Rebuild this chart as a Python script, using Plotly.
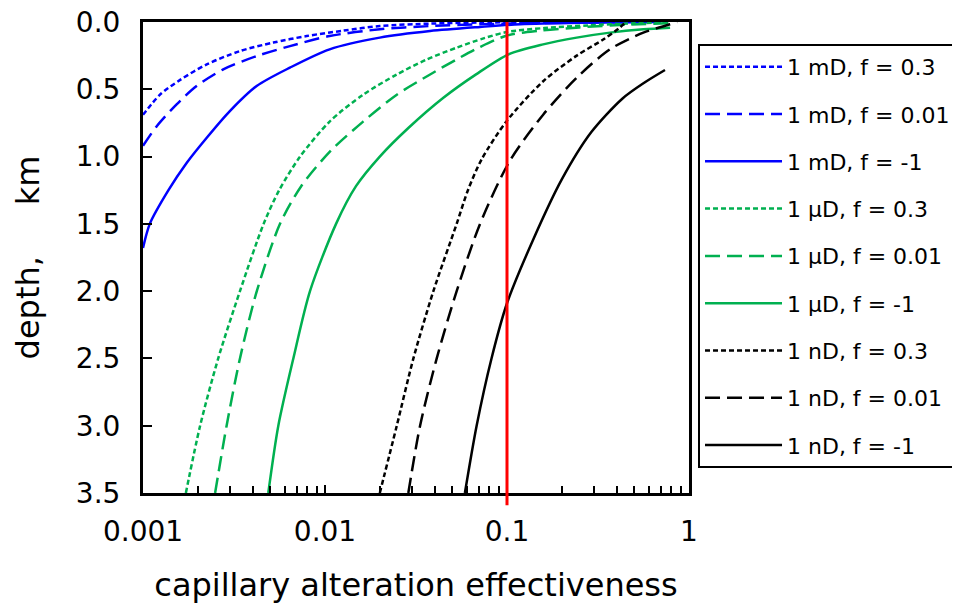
import plotly.graph_objects as go

# ---- data ----
names = ["1 mD, f = 0.3", "1 mD, f = 0.01", "1 mD, f = -1",
         "1 μD, f = 0.3", "1 μD, f = 0.01", "1 μD, f = -1",
         "1 nD, f = 0.3", "1 nD, f = 0.01", "1 nD, f = -1"]

md_f03_depth = [0.69, 0.54, 0.43, 0.315, 0.216, 0.153, 0.104, 0.065, 0.03, 0.012, 0.004, 0.0]
md_f03_x     = [0.001, 0.00124, 0.0016, 0.00224, 0.00341, 0.0052, 0.00794, 0.0125, 0.02, 0.038, 0.07, 0.5]

md_f001_depth = [0.92, 0.774, 0.612, 0.476, 0.352, 0.253, 0.179, 0.104, 0.054, 0.03, 0.017, 0.01, 0.0]
md_f001_x     = [0.001, 0.00119, 0.00153, 0.00197, 0.00276, 0.00421, 0.00642, 0.0106, 0.02, 0.0378, 0.071, 0.118, 0.6]

md_fm1_depth = [1.68, 1.5, 1.25, 1.046, 0.86, 0.662, 0.476, 0.339, 0.203, 0.116, 0.067, 0.037, 0.017, 0.006, 0.0]
md_fm1_x     = [0.001, 0.00109, 0.00138, 0.00174, 0.00224, 0.003, 0.00421, 0.00642, 0.0106, 0.02, 0.0378, 0.0711, 0.118, 0.25, 0.7]

ud_f03_depth = [3.5, 3.0, 2.5, 2.0, 1.5, 1.25, 1.0, 0.74, 0.54, 0.39, 0.28, 0.19, 0.12, 0.074, 0.045, 0.025, 0.01, 0.003]
ud_f03_x     = [0.00172, 0.00206, 0.00259, 0.00341, 0.0046, 0.0056, 0.0073, 0.0106, 0.0162, 0.0248, 0.036, 0.053, 0.075, 0.1, 0.16, 0.28, 0.5, 0.79]

ud_f001_depth = [3.5, 3.0, 2.5, 2.0, 1.5, 1.22, 0.96, 0.74, 0.54, 0.39, 0.28, 0.19, 0.1, 0.065, 0.04, 0.02, 0.008]
ud_f001_x     = [0.00249, 0.00288, 0.00341, 0.00422, 0.00566, 0.0074, 0.0107, 0.0162, 0.0248, 0.0378, 0.0525, 0.07, 0.1, 0.15, 0.25, 0.45, 0.79]

ud_fm1_depth = [3.5, 3.0, 2.5, 2.0, 1.5, 1.22, 1.0, 0.786, 0.563, 0.389, 0.24, 0.166, 0.116, 0.079, 0.054, 0.042]
ud_fm1_x     = [0.00488, 0.00554, 0.0067, 0.00827, 0.0115, 0.0148, 0.02, 0.0288, 0.0447, 0.0676, 0.102, 0.158, 0.2415, 0.368, 0.561, 0.787]

nd_f03_depth = [3.5, 3.0, 2.5, 2.0, 1.5, 1.25, 1.02, 0.737, 0.44, 0.25, 0.13, 0.05, 0.0]
nd_f03_x     = [0.02, 0.0248, 0.0306, 0.0394, 0.0529, 0.061, 0.0726, 0.0995, 0.158, 0.2415, 0.338, 0.41, 0.45]

nd_f001_depth = [3.5, 3.0, 2.5, 2.0, 1.5, 1.03, 0.687, 0.414, 0.203, 0.079, 0.017, 0.0]
nd_f001_x     = [0.0287, 0.0333, 0.0411, 0.0529, 0.0711, 0.1038, 0.1584, 0.2415, 0.368, 0.561, 0.787, 0.86]

nd_fm1_depth = [3.5, 3.0, 2.5, 2.09, 1.62, 1.17, 0.82, 0.57, 0.45, 0.357]
nd_fm1_x     = [0.0587, 0.0681, 0.0822, 0.1, 0.139, 0.2, 0.29, 0.43, 0.57, 0.738]

threshold = 0.1

x_tickvals = [0.001, 0.01, 0.1, 1]
x_ticktext = ["0.001", "0.01", "0.1", "1"]
y_tickvals = [0.0, 0.5, 1.0, 1.5, 2.0, 2.5, 3.0, 3.5]
y_ticktext = ["0.0", "0.5", "1.0", "1.5", "2.0", "2.5", "3.0", "3.5"]

series_x = [md_f03_x, md_f001_x, md_fm1_x, ud_f03_x, ud_f001_x, ud_fm1_x, nd_f03_x, nd_f001_x, nd_fm1_x]
series_d = [md_f03_depth, md_f001_depth, md_fm1_depth, ud_f03_depth, ud_f001_depth, ud_fm1_depth,
            nd_f03_depth, nd_f001_depth, nd_fm1_depth]

# ---- styles ----
colors = ["#0000ff"] * 3 + ["#00b050"] * 3 + ["#000000"] * 3
dashes = ["5px,3px", "15px,7px", "solid"] * 3

FONT = "DejaVu Sans"

fig = go.Figure()
for i in range(9):
    fig.add_trace(go.Scatter(
        x=series_x[i], y=series_d[i], mode="lines", name=names[i],
        legendgroup="g%d" % i,
        line=dict(color=colors[i], width=2.5, dash=dashes[i], shape="spline", smoothing=0.8),
    ))

fig.add_shape(type="line", xref="x", yref="paper", x0=threshold, x1=threshold,
              y0=-0.026, y1=1.0, line=dict(color="#ff0000", width=3), layer="above")

fig.update_layout(
    width=952, height=600,
    margin=dict(l=135, r=271, t=14, b=115, autoexpand=False),
    paper_bgcolor="white", plot_bgcolor="white",
    font=dict(family=FONT, color="black"),
    showlegend=True,
    legend=dict(
        x=1.0165, y=0.9535, xanchor="left", yanchor="top",
        bordercolor="black", borderwidth=2, bgcolor="white",
        font=dict(size=22, family=FONT),
        tracegroupgap=15.7, traceorder="grouped",
        itemwidth=77,
    ),
    xaxis=dict(
        type="log", range=[-3, 0],
        tickmode="array", tickvals=x_tickvals, ticktext=x_ticktext,
        ticks="inside", ticklen=8, tickwidth=2, tickcolor="black",
        minor=dict(ticks="inside", ticklen=7, tickwidth=2, tickcolor="black", dtick="D1", showgrid=False),
        showline=True, linecolor="black", linewidth=3, mirror=True,
        showgrid=False, zeroline=False,
        tickfont=dict(size=28, family=FONT),
        ticklabelstandoff=11,
        ticklabeloverflow="allow",
        title=dict(text="capillary alteration effectiveness", font=dict(size=32, family=FONT), standoff=28),
        automargin=False,
    ),
    yaxis=dict(
        range=[3.5, 0],
        tickmode="array", tickvals=y_tickvals, ticktext=y_ticktext,
        ticks="inside", ticklen=9, tickwidth=2, tickcolor="black",
        showline=True, linecolor="black", linewidth=3, mirror=True,
        showgrid=False, zeroline=False,
        tickfont=dict(size=28, family=FONT),
        ticklabelstandoff=14,
        ticklabeloverflow="allow",
        title=dict(text="depth,\u00a0\u00a0\u00a0\u00a0\u00a0km", font=dict(size=32, family=FONT), standoff=27),
        automargin=False,
    ),
)

fig.write_html("out.html")
